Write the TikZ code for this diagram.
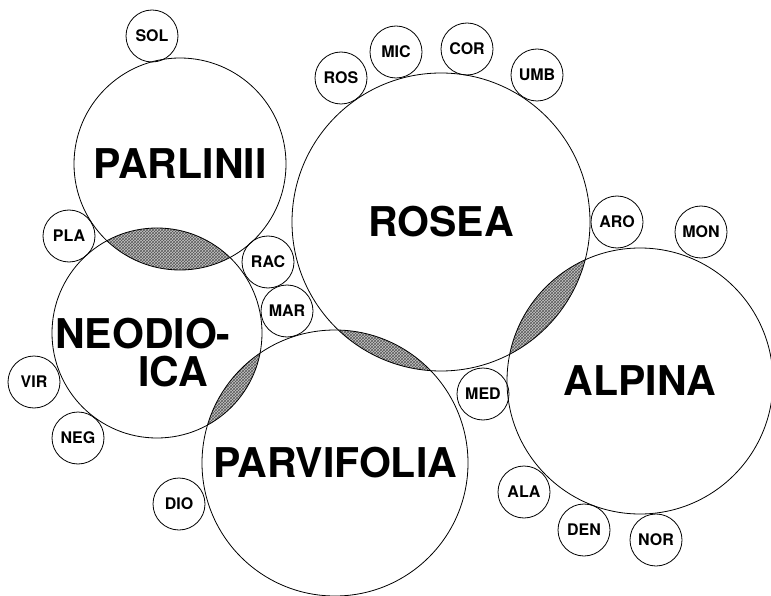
\documentclass[tikz,border=0pt]{standalone}
\usepackage{fontspec}
\setmainfont{TeX Gyre Heros}
\usepackage{tikz}
\usetikzlibrary{patterns, backgrounds}
\tikzset{
    bigset/.style={draw, circle, line width=0.8pt, inner sep=0pt, minimum size=#1, font=\fontsize{41}{41}\selectfont\bfseries},
    bigname/.style={inner sep=0pt, font=\fontsize{41}{41}\selectfont\bfseries},
    smallset/.style={draw, circle, line width=0.8pt, inner sep=0pt, minimum size=52pt, font=\fontsize{16}{16}\selectfont\bfseries},
    overlap/.style={fill=gray!45, postaction={pattern=crosshatch, pattern color=black!65}},
}

\begin{document}
\begin{tikzpicture}[x=1pt, y=-1pt]
        \useasboundingbox (0,0) rectangle (771,596);
        \node[bigset=212pt] (parlinii) at (180,164) {PARLINII};
        \node[bigset=298pt] (rosea) at (441,222) {ROSEA};
        \node[bigset=210pt] (neodioica) at (157,333) {};
        \node[bigset=266pt] (parvifolia) at (335,463) {PARVIFOLIA};
        \node[bigset=266pt] (alpina) at (640,381) {ALPINA};
        \node[bigname, anchor=west] (neo1) at (55,334) {NEODIO-};
        \node[bigname] (neo2) at (173,372) {ICA};
        \foreach \name/\x/\y in {SOL/152/36, ROS/341/78, MIC/396/52, COR/467/49, UMB/537/75,
            ARO/617/222, MON/701/232, PLA/69/236, RAC/268/262, MAR/287/311, VIR/34/382,
            NEG/78/438, MED/483/394, DIO/179/504, ALA/524/492, DEN/584/530, NOR/656/540}
            \node[smallset] (\name) at (\x,\y) {\name};
        % shaded overlaps
        \begin{scope}[on background layer]
            \foreach \a/\ra/\b/\rb in {parlinii/106pt/neodioica/105pt, neodioica/105pt/parvifolia/133pt,
                rosea/149pt/parvifolia/133pt, rosea/149pt/alpina/133pt} {
                \begin{scope}
                    \clip (\a) circle [radius=\ra];
                    \fill[overlap] (\b) circle [radius=\rb];
                \end{scope}
            }
        \end{scope}
    \end{tikzpicture}
\end{document}
